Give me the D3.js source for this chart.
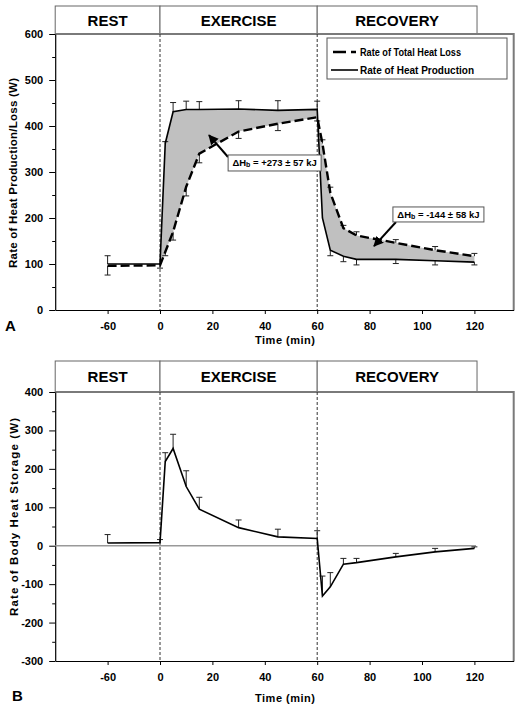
<!DOCTYPE html>
<html><head><meta charset="utf-8">
<script src="https://cdn.jsdelivr.net/npm/d3@7"></script>
<style>
body{margin:0;background:#fff}
svg{display:block}
text{font-family:"Liberation Sans",Arial,sans-serif;font-weight:bold;fill:#000}
</style>
</head><body><svg id="c" width="520" height="707"></svg>
<script>
// ---------- DATA ----------
const phases = ["REST", "EXERCISE", "RECOVERY"];
const phaseBounds = [-80, 0, 60, 121];
const xTicks = [-60, 0, 20, 40, 60, 80, 100, 120];

// Panel A
const timeA = [-60, 0, 2, 5, 10, 15, 30, 45, 60, 62, 65, 70, 75, 90, 105, 120];
const heatProduction    = [100, 100, 362, 431, 436, 436, 437, 434, 436, 200, 130, 117, 110, 110, 107, 104];
const heatProductionErr = [18, 0, 4, 20, 18, 17, 18, 21, 18, 0, 12, 12, 12, 9, 9, 6];
const heatLoss    = [96, 97, 126, 170, 268, 340, 388, 405, 419, 362, 255, 178, 162, 146, 130, 117];
const heatLossErr = [20, 6, 8, 18, 20, 20, 15, 15, 8, 8, 12, 6, 8, 7, 8, 6];
const yTicksA = [0, 100, 200, 300, 400, 500, 600];
const seriesNamesA = ["Rate of Total Heat Loss", "Rate of Heat Production"];
const annotTexts = [["ΔH", "b", " = +273 ± 57 kJ"], ["ΔH", "b", " = -144 ± 58 kJ"]];

// Panel B
const timeB = [-60, 0, 2, 5, 10, 15, 30, 45, 60, 62, 65, 70, 75, 90, 105, 120];
const heatStorage    = [7, 8, 219, 253, 154, 95, 47, 23, 19, -131, -107, -48, -44, -29, -16, -7];
const heatStorageErr = [22, 8, 23, 37, 41, 31, 20, 20, 20, 52, 37, 15, 11, 9, 9, 4];
const yTicksB = [-300, -200, -100, 0, 100, 200, 300, 400];

// ---------- LAYOUT ----------
const X0 = 160, K = 2.62;
const x = d3.scaleLinear().domain([-80, -60, 0, 135])
  .range([X0 - 40 * K, X0 - 20 * K, X0, X0 + 135 * K]);
const yA = d3.scaleLinear().domain([0, 600]).range([310, 34]);
const yB = d3.scaleLinear().domain([-300, 400]).range([661, 392]);

const svg = d3.select("#c");
const FRAME = "#7a7a7a";
const fmt = d => String(d);

function panel(y, yTicks, headerTop, ylabel, ylabelPos, ylabelLen, letter, letterPos, timePos) {
  const g = svg.append("g");
  const [yb, yt] = y.range();
  const xl = x.range()[0], xr = x.range()[x.range().length - 1];
  // header
  phases.forEach((p, i) => {
    const a = x(phaseBounds[i]), b = x(phaseBounds[i + 1]);
    g.append("rect").attr("x", a).attr("y", headerTop).attr("width", b - a).attr("height", yt - headerTop)
      .attr("fill", "#fff").attr("stroke", "#666").attr("stroke-width", 1);
    g.append("text").attr("x", (a + b) / 2).attr("y", (headerTop + yt) / 2 + 5.5)
      .attr("text-anchor", "middle").attr("font-size", 15).text(p);
  });
  // frame
  g.append("path").attr("d", `M${xl},${yt}H${xr}V${yb}`).attr("fill", "none")
    .attr("stroke", FRAME).attr("stroke-width", 2);
  // phase dividers
  [phaseBounds[1], phaseBounds[2]].forEach(t => {
    g.append("line").attr("x1", x(t)).attr("x2", x(t)).attr("y1", yt).attr("y2", yb)
      .attr("stroke", "#333").attr("stroke-width", 1).attr("stroke-dasharray", "3,2");
  });
  // axes
  const ax = g.append("g").attr("transform", `translate(0,${yb})`)
    .call(d3.axisBottom(x).tickValues(xTicks).tickSize(4).tickSizeOuter(0).tickPadding(8).tickFormat(fmt));
  const ay = g.append("g").attr("transform", `translate(${xl},0)`)
    .call(d3.axisLeft(y).tickValues(yTicks).tickSize(6).tickSizeOuter(0).tickPadding(6).tickFormat(fmt));
  const minor = d3.range(y.domain()[0] + 50, y.domain()[1], 100);
  g.append("g").attr("transform", `translate(${xl},0)`)
    .call(d3.axisLeft(y).tickValues(minor).tickSize(3).tickFormat("").tickSizeOuter(0))
    .select(".domain").remove();
  [ax, ay].forEach(a => {
    a.selectAll("text").attr("font-size", 11).style("font-family", '"Liberation Sans",Arial,sans-serif').style("font-weight", "bold");
    a.select(".domain").attr("stroke", "#000").attr("stroke-width", 1.2);
  });
  // labels
  g.append("text").attr("transform", `translate(${ylabelPos[0]},${ylabelPos[1]}) rotate(-90)`)
    .attr("text-anchor", "middle").attr("font-size", 11.5)
    .attr("textLength", ylabelLen).attr("lengthAdjust", "spacing").text(ylabel);
  g.append("text").attr("x", timePos[0]).attr("y", timePos[1]).attr("text-anchor", "middle")
    .attr("font-size", 11).attr("textLength", 60).attr("lengthAdjust", "spacing").text("Time (min)");
  g.append("text").attr("x", letterPos[0]).attr("y", letterPos[1]).attr("font-size", 15).text(letter);
  return g;
}

function errBars(g, y, ts, vals, errs, dirs) {
  ts.forEach((t, i) => {
    if (!errs[i]) return;
    const cx = x(t), y1 = y(vals[i]), y2 = y(vals[i] + dirs[i] * errs[i]);
    g.append("line").attr("x1", cx).attr("x2", cx).attr("y1", y1).attr("y2", y2)
      .attr("stroke", "#222").attr("stroke-width", 1);
    g.append("line").attr("x1", cx - 3).attr("x2", cx + 3).attr("y1", y2).attr("y2", y2)
      .attr("stroke", "#222").attr("stroke-width", 1);
  });
}

// ---------- PANEL A ----------
const gA = panel(yA, yTicksA, 6, "Rate of Heat Production/Loss (W)", [17, 173], 190, "A", [5, 331], [285, 344]);
const dataA = timeA.map((t, i) => ({ t, p: heatProduction[i], l: heatLoss[i] }));
gA.append("path").datum(dataA.filter(d => d.t >= 0))
  .attr("d", d3.area().x(d => x(d.t)).y0(d => yA(d.l)).y1(d => yA(d.p)))
  .attr("fill", "#c0c0c0");
const dirP = dataA.map(d => d.p >= d.l ? 1 : -1);
errBars(gA, yA, timeA, heatProduction, heatProductionErr, dirP);
errBars(gA, yA, timeA, heatLoss, heatLossErr, dirP.map(d => -d));
gA.append("path").datum(dataA).attr("d", d3.line().x(d => x(d.t)).y(d => yA(d.p)))
  .attr("fill", "none").attr("stroke", "#000").attr("stroke-width", 1.6);
gA.append("path").datum(dataA).attr("d", d3.line().x(d => x(d.t)).y(d => yA(d.l)))
  .attr("fill", "none").attr("stroke", "#000").attr("stroke-width", 2.4).attr("stroke-dasharray", "9,4");

// arrow marker
svg.append("defs").append("marker").attr("id", "ah").attr("viewBox", "0 0 10 10")
  .attr("refX", 9).attr("refY", 5).attr("markerWidth", 5).attr("markerHeight", 5)
  .attr("markerUnits", "strokeWidth").attr("orient", "auto")
  .append("path").attr("d", "M0,0L10,5L0,10z").attr("fill", "#000");

// annotations: box left/top in data coords, arrow head in data coords
const annots = [
  { box: [26, 337], w: 93, h: 16, tail: [228, 157], head: [18.7, 380] },
  { box: [88.9, 224], w: 91, h: 15, tail: [396, 222], head: [81.7, 139] }
];
annots.forEach((a, i) => {
  const bx = x(a.box[0]), by = yA(a.box[1]);
  gA.append("line").attr("x1", a.tail[0]).attr("y1", a.tail[1])
    .attr("x2", x(a.head[0])).attr("y2", yA(a.head[1]))
    .attr("stroke", "#000").attr("stroke-width", 2).attr("marker-end", "url(#ah)");
  gA.append("rect").attr("x", bx).attr("y", by).attr("width", a.w).attr("height", a.h)
    .attr("fill", "#fff").attr("stroke", "#555").attr("stroke-width", 1);
  const tx = gA.append("text").attr("x", bx + a.w / 2).attr("y", by + a.h / 2 + 3.5)
    .attr("text-anchor", "middle").attr("font-size", 9.5);
  tx.append("tspan").text(annotTexts[i][0]);
  tx.append("tspan").attr("font-size", 7).attr("dy", 1).text(annotTexts[i][1]);
  tx.append("tspan").attr("dy", -1).text(annotTexts[i][2]);
});

// legend
const lg = gA.append("g");
lg.append("rect").attr("x", 327).attr("y", 38).attr("width", 180).attr("height", 41)
  .attr("fill", "#fff").attr("stroke", "#555").attr("stroke-width", 1);
lg.append("line").attr("x1", 333).attr("x2", 356).attr("y1", 52).attr("y2", 52)
  .attr("stroke", "#000").attr("stroke-width", 2.4).attr("stroke-dasharray", "13,5");
lg.append("line").attr("x1", 331).attr("x2", 358).attr("y1", 70).attr("y2", 70)
  .attr("stroke", "#000").attr("stroke-width", 1.6);
lg.append("text").attr("x", 360).attr("y", 55.5).attr("font-size", 10.5)
  .attr("textLength", 101).attr("lengthAdjust", "spacingAndGlyphs").text(seriesNamesA[0]);
lg.append("text").attr("x", 360).attr("y", 73.5).attr("font-size", 10.5)
  .attr("textLength", 114).attr("lengthAdjust", "spacingAndGlyphs").text(seriesNamesA[1]);

// ---------- PANEL B ----------
const gB = panel(yB, yTicksB, 361, "Rate of Body Heat Storage (W)", [18, 517], 198, "B", [12, 701], [285, 702]);
gB.append("line").attr("x1", x.range()[0]).attr("x2", x(phaseBounds[3]) - 1)
  .attr("y1", yB(0)).attr("y2", yB(0)).attr("stroke", "#999").attr("stroke-width", 1.5);
const dataB = timeB.map((t, i) => ({ t, v: heatStorage[i] }));
errBars(gB, yB, timeB, heatStorage, heatStorageErr, timeB.map(() => 1));
gB.append("path").datum(dataB).attr("d", d3.line().x(d => x(d.t)).y(d => yB(d.v)))
  .attr("fill", "none").attr("stroke", "#000").attr("stroke-width", 1.6);
</script>
</body></html>
